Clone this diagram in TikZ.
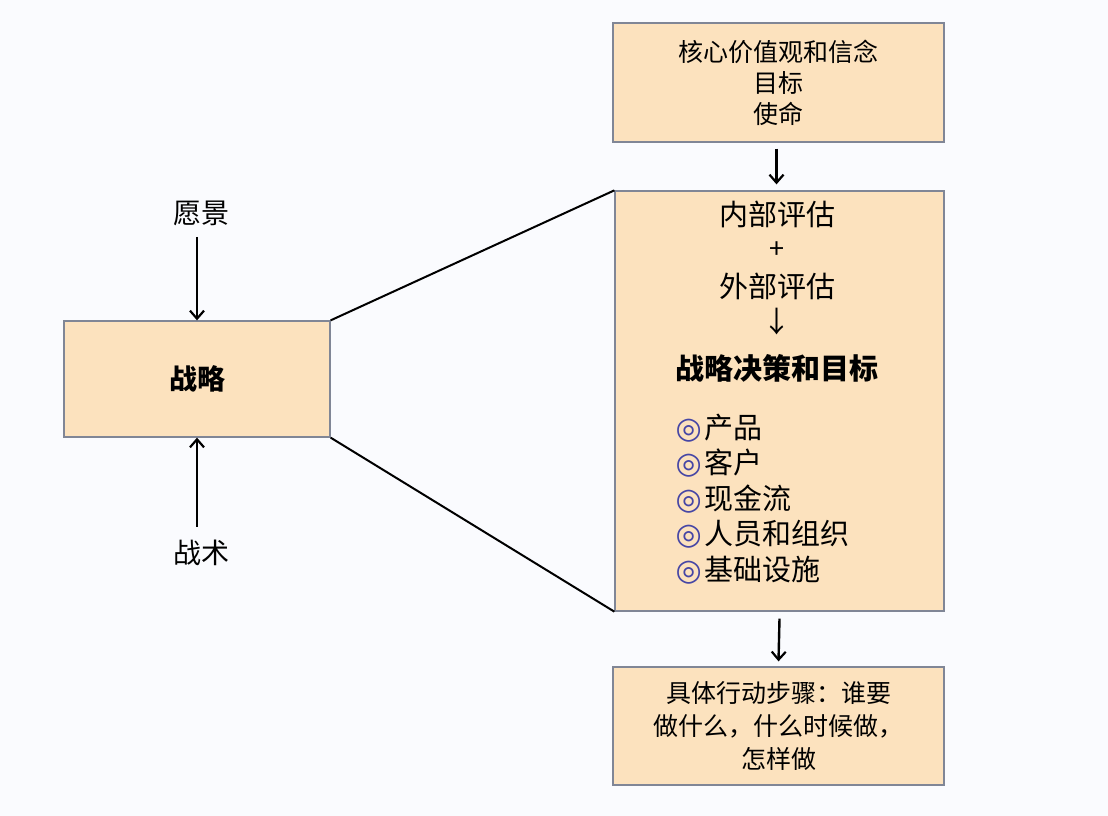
\documentclass[tikz,border=0pt]{standalone}
\usepackage{fontspec}
\setmainfont{Noto Sans CJK SC}
\newfontfamily\symfont{DejaVu Sans}
\usepackage{tikz}
\usetikzlibrary{calc,arrows.meta}
\definecolor{boxfill}{RGB}{252,226,190}
\definecolor{boxline}{RGB}{128,134,150}
\definecolor{dotblue}{RGB}{70,70,165}
\definecolor{paper}{RGB}{250,251,254}
\tikzset{
  planbox/.style={draw=boxline,fill=boxfill,line width=1.3pt,inner sep=0pt,align=center},
  flowarrow/.style={-{Straight Barb[length=8pt,width=14pt,line width=2.2pt]},line width=2.4pt},
  zoomline/.style={line width=2pt}
}
\newcommand{\ring}{{\color{dotblue}\symfont\fontsize{30}{30}\selectfont\bfseries◎}\hspace{3pt}}

\begin{document}
\begin{tikzpicture}[x=1pt,y=-1pt]
  \fill[paper] (0,0) rectangle (1108,816);
  \useasboundingbox (0,0) rectangle (1108,816);
  % left part
  \node[planbox,minimum width=266pt,minimum height=116pt,font=\fontsize{28}{32}\selectfont\bfseries](strat)at(197,379){战略};
  \node[font=\fontsize{28}{32}\selectfont](vision)at(201,213){愿景};
  \node[font=\fontsize{28}{32}\selectfont](tactic)at(201,553){战术};
  \draw[flowarrow](vision.south)++(-4,8)--(strat.north);
  \draw[flowarrow]($(tactic.north)+(-4,-10)$)--(strat.south);
  % right column
  \node[planbox,minimum width=331pt,minimum height=119pt,font=\fontsize{25}{31}\selectfont](core)at(778.5,82.5){核心价值观和信念\\目标\\使命};
  \node[planbox,minimum width=329pt,minimum height=420pt](assess)at(779.5,401){};
  \node[planbox,minimum width=331pt,minimum height=118pt,font=\fontsize{25}{33}\selectfont](action)at(778.5,726){具体行动步骤：谁要\\做什么，什么时候做，\\怎样做};
  \node[font=\fontsize{29}{32}\selectfont](inner)at(777,214){内部评估};
  \node[font=\fontsize{27}{30}\selectfont](plus)at(777,250){+};
  \node[font=\fontsize{29}{32}\selectfont](outer)at(777,286){外部评估};
  \node[font=\fontsize{29}{32}\selectfont](down)at(777,322){↓};
  \node[font=\fontsize{29}{32}\selectfont\bfseries](goal)at(777,368){战略决策和目标};
  \node[anchor=west,align=left,font=\fontsize{29}{35.5}\selectfont](items)at(672,499){\ring 产品\\\ring 客户\\\ring 现金流\\\ring 人员和组织\\\ring 基础设施};
  \draw[flowarrow]([xshift=-2pt,yshift=-6pt]core.south)--([xshift=-3pt,yshift=6pt]assess.north);
  \draw[flowarrow]([yshift=-7pt]assess.south)--([yshift=5pt]action.north);
  \draw[zoomline](strat.north east)--(assess.north west);
  \draw[zoomline](strat.south east)--(assess.south west);
\end{tikzpicture}
\end{document}
